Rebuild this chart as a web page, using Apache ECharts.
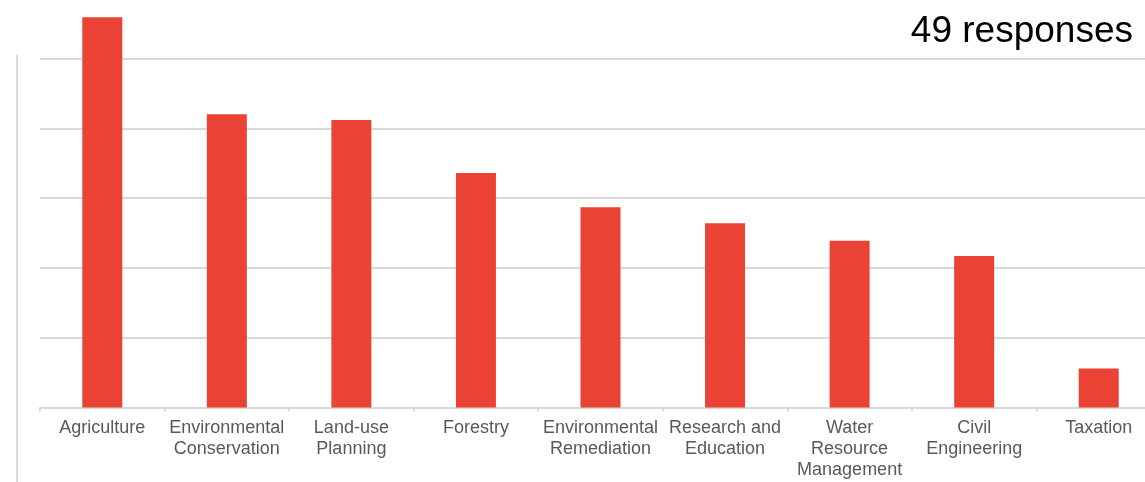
<!DOCTYPE html>
<html>
<head>
<meta charset="utf-8">
<style>
  html, body { margin: 0; padding: 0; background: #ffffff; overflow: hidden; }
  /* The plot runs slightly past the right edge of the page */
  #chart { width: 1161px; height: 482px; }
</style>
<script src="https://cdn.jsdelivr.net/npm/echarts@6/dist/echarts.min.js"></script>
</head>
<body>
<div id="chart"></div>
<script>
// Fields of interest, in order of share of respondents
const categories = [
  'Agriculture',
  'Environmental Conservation',
  'Land-use Planning',
  'Forestry',
  'Environmental Remediation',
  'Research and Education',
  'Water Resource Management',
  'Civil Engineering',
  'Taxation'
];

// Axis tick labels (wrapped the way they are printed under each bar)
const tickLabels = [
  'Agriculture',
  'Environmental\nConservation',
  'Land-use\nPlanning',
  'Forestry',
  'Environmental\nRemediation',
  'Research and\nEducation',
  'Water\nResource\nManagement',
  'Civil\nEngineering',
  'Taxation'
];

// Share of respondents selecting each field (%)
const shares = [55.9, 42.0, 41.2, 33.6, 28.7, 26.4, 23.9, 21.7, 5.6];

const responseCount = 49;

const chart = echarts.init(document.getElementById('chart'), null, { renderer: 'canvas' });

chart.setOption({
  animation: false,
  backgroundColor: '#ffffff',
  title: {
    text: responseCount + ' responses',
    right: 23,
    top: 8,
    textStyle: {
      fontFamily: 'Liberation Sans, Arial, sans-serif',
      fontSize: 37,
      fontWeight: 'normal',
      color: '#000000'
    }
  },
  grid: {
    left: 40,
    right: 0,
    top: 58.5,
    bottom: 74.5,
    containLabel: false
  },
  xAxis: {
    type: 'category',
    data: categories,
    axisLine: { show: true, lineStyle: { color: '#d9d9d9', width: 2 } },
    axisTick: { show: true, length: 4, lineStyle: { color: '#d9d9d9', width: 2 } },
    axisLabel: {
      interval: 0,
      margin: 10,
      color: '#595959',
      fontFamily: 'Liberation Sans, Arial, sans-serif',
      fontSize: 18,
      lineHeight: 21,
      formatter: (v, i) => tickLabels[i]
    }
  },
  yAxis: {
    type: 'value',
    min: 0,
    max: 50,
    interval: 10,
    axisLine: { show: false },
    axisTick: { show: false },
    axisLabel: { show: false },
    splitLine: { show: true, lineStyle: { color: '#d9d9d9', width: 2 } }
  },
  graphic: [{
    type: 'line',
    shape: { x1: 17, y1: 55, x2: 17, y2: 482 },
    style: { stroke: '#d9d9d9', lineWidth: 2 },
    silent: true
  }],
  series: [{
    type: 'bar',
    data: shares,
    barWidth: 40,
    clip: false,
    itemStyle: { color: '#ea4335' }
  }]
});
</script>
</body>
</html>
